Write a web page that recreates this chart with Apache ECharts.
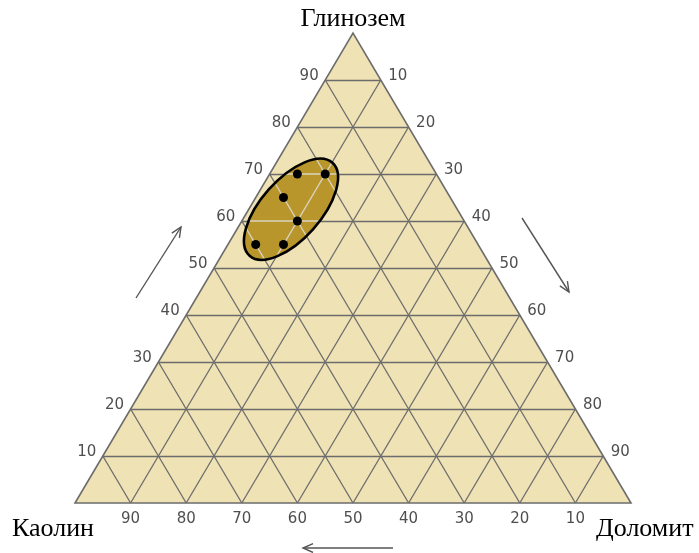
<!DOCTYPE html>
<html><head><meta charset="utf-8">
<script src="https://cdn.jsdelivr.net/npm/echarts@6/dist/echarts.min.js"></script>
<style>html,body{margin:0;padding:0;background:#fff}#c{width:699px;height:553px}</style>
</head><body><div id="c"></div>
<script>
// ---- data ----
const ticks = [10, 20, 30, 40, 50, 60, 70, 80, 90];
const pointGlinozem = [70, 70, 65, 60, 55, 55];
const pointDolomit  = [5, 10, 5, 10, 5, 10];
const pointKaolin   = [25, 20, 30, 30, 40, 35];
// region ellipse, as [glinozem, dolomit]
const regionCenter   = [62.5, 7.6];
const regionMajorEnd = [72.4, 10.1];
const regionMinorEnd = [58.3, 13.7];
const cornerNames = ['Глинозем', 'Каолин', 'Доломит'];

// ternary (glinozem, dolomit) -> cartesian data space
function xy(g, d) { return [d + g / 2, g]; }

const gridLines = [];
ticks.forEach(t => {
  gridLines.push([xy(t, 0), xy(t, 100 - t)]);          // glinozem const
  gridLines.push([xy(0, t), xy(100 - t, t)]);          // dolomit const
  gridLines.push([xy(0, 100 - t), xy(100 - t, 0)]);    // kaolin const
});

function ellipseGeom(api) {
  const c = api.coord(xy(regionCenter[0], regionCenter[1]));
  const m = api.coord(xy(regionMajorEnd[0], regionMajorEnd[1]));
  const n = api.coord(xy(regionMinorEnd[0], regionMinorEnd[1]));
  const rx = Math.hypot(m[0] - c[0], m[1] - c[1]);
  const e1 = [(m[0] - c[0]) / rx, (m[1] - c[1]) / rx];
  const e2 = [-e1[1], e1[0]];
  const ry = Math.abs((n[0] - c[0]) * e2[0] + (n[1] - c[1]) * e2[1]);
  return { c, rx, ry, e1, e2, rot: Math.atan2(c[1] - m[1], m[0] - c[0]) };
}

function ellipseEl(api, style) {
  const E = ellipseGeom(api);
  return { type: 'ellipse', x: E.c[0], y: E.c[1], rotation: E.rot,
    shape: { cx: 0, cy: 0, rx: E.rx, ry: E.ry }, style: style };
}

const chart = echarts.init(document.getElementById('c'));

function labelSeries(data, pos, offset) {
  return {
    type: 'scatter', symbolSize: 1, silent: true, z: 10,
    itemStyle: { color: 'rgba(0,0,0,0)' },
    data: data,
    label: { show: true, formatter: '{b}', position: pos, distance: 6, offset: offset,
      fontFamily: 'DejaVu Sans', fontSize: 15, color: '#222' }
  };
}

function arrow(x1, y1, x2, y2) {
  const ang = Math.atan2(y2 - y1, x2 - x1), L = 11, a = 0.42;
  const h1 = [x2 - L * Math.cos(ang - a), y2 - L * Math.sin(ang - a)];
  const h2 = [x2 - L * Math.cos(ang + a), y2 - L * Math.sin(ang + a)];
  const st = { stroke: '#555', lineWidth: 1.4, fill: null };
  return { type: 'group', silent: true, children: [
    { type: 'line', shape: { x1: x1, y1: y1, x2: x2, y2: y2 }, style: st },
    { type: 'polyline', shape: { points: [h1, [x2, y2], h2] }, style: st }
  ]};
}

const option = {
  animation: false,
  grid: { left: 75, top: 33, width: 556, height: 470 },
  xAxis: { type: 'value', min: 0, max: 100, show: false },
  yAxis: { type: 'value', min: 0, max: 100, show: false },
  series: [
    { type: 'custom', silent: true, z: 1, data: [[0]],
      renderItem: (p, api) => ({ type: 'polygon',
        shape: { points: [api.coord(xy(0, 0)), api.coord(xy(0, 100)), api.coord(xy(100, 0))] },
        style: { fill: '#EFE2B5', stroke: null } }) },
    { type: 'lines', coordinateSystem: 'cartesian2d', silent: true, z: 2,
      data: gridLines.map(c => ({ coords: c })),
      lineStyle: { color: '#6c6c6c', width: 1.3, opacity: 1 } },
    { type: 'custom', silent: true, z: 3, data: [[0]],
      renderItem: (p, api) => ({ type: 'polygon',
        shape: { points: [api.coord(xy(0, 0)), api.coord(xy(0, 100)), api.coord(xy(100, 0))] },
        style: { fill: null, stroke: '#6c6c6c', lineWidth: 1.6 } }) },
    { type: 'custom', silent: true, z: 4, data: [[0]],
      renderItem: (p, api) => ellipseEl(api, { fill: '#B8962B', stroke: null }) },
    { type: 'custom', silent: true, z: 5, data: [[0]],
      renderItem: (p, api) => {
        const E = ellipseGeom(api);
        const children = [];
        gridLines.forEach(l => {
          const p0 = api.coord(l[0]), p1 = api.coord(l[1]);
          const loc = q => [((q[0] - E.c[0]) * E.e1[0] + (q[1] - E.c[1]) * E.e1[1]) / E.rx,
                            ((q[0] - E.c[0]) * E.e2[0] + (q[1] - E.c[1]) * E.e2[1]) / E.ry];
          const a = loc(p0), b = loc(p1);
          const du = b[0] - a[0], dv = b[1] - a[1];
          const A = du * du + dv * dv, B = 2 * (a[0] * du + a[1] * dv), C = a[0] * a[0] + a[1] * a[1] - 1;
          const disc = B * B - 4 * A * C;
          if (disc <= 0) return;
          let t1 = (-B - Math.sqrt(disc)) / (2 * A), t2 = (-B + Math.sqrt(disc)) / (2 * A);
          t1 = Math.max(0, t1); t2 = Math.min(1, t2);
          if (t2 <= t1) return;
          children.push({ type: 'line', shape: {
            x1: p0[0] + (p1[0] - p0[0]) * t1, y1: p0[1] + (p1[1] - p0[1]) * t1,
            x2: p0[0] + (p1[0] - p0[0]) * t2, y2: p0[1] + (p1[1] - p0[1]) * t2 },
            style: { stroke: '#DAD3C0', lineWidth: 1.3 } });
        });
        return { type: 'group', children: children };
      } },
    { type: 'custom', silent: true, z: 6, data: [[0]],
      renderItem: (p, api) => ellipseEl(api, { fill: null, stroke: '#000', lineWidth: 2.6 }) },
    { type: 'scatter', silent: true, z: 7, symbolSize: 9,
      itemStyle: { color: '#000', opacity: 1 },
      data: pointGlinozem.map((g, i) => ({ value: xy(g, pointDolomit[i]), name: 'K' + pointKaolin[i] })) },
    labelSeries(ticks.map(t => ({ value: xy(t, 0), name: String(t) })), 'left', [0, -4]),
    labelSeries(ticks.map(t => ({ value: xy(100 - t, t), name: String(t) })), 'right', [1, -4]),
    labelSeries(ticks.map(t => ({ value: xy(0, 100 - t), name: String(t) })), 'bottom', [0, 2])
  ],
  graphic: [
    { type: 'text', x: 353, y: 19, silent: true, style: { text: cornerNames[0], font: '26px "Liberation Serif"', fill: '#000', textAlign: 'center', textVerticalAlign: 'middle' } },
    { type: 'text', x: 12, y: 529, silent: true, style: { text: cornerNames[1], font: '26px "Liberation Serif"', fill: '#000', textAlign: 'left', textVerticalAlign: 'middle' } },
    { type: 'text', x: 596, y: 529, silent: true, style: { text: cornerNames[2], font: '26px "Liberation Serif"', fill: '#000', textAlign: 'left', textVerticalAlign: 'middle' } },
    arrow(136, 298, 181, 227),
    arrow(522, 218, 569, 292),
    arrow(393, 548, 303, 548)
  ]
};
chart.setOption(option);
</script>
</body></html>
